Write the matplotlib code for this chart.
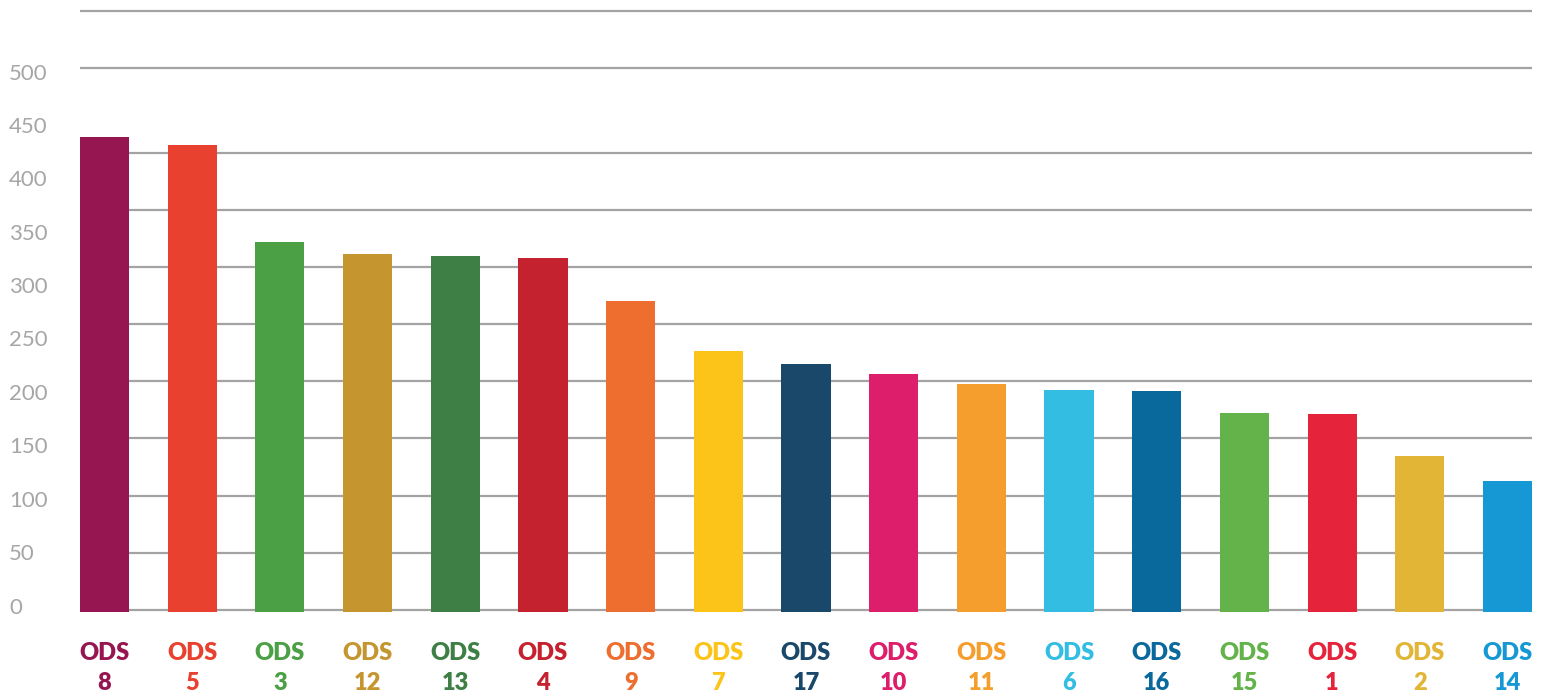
import matplotlib
matplotlib.use("Agg")
import matplotlib.pyplot as plt
import matplotlib.transforms as mtransforms

# ---- data ----
categories = ["8", "5", "3", "12", "13", "4", "9", "7", "17", "10", "11", "6", "16", "15", "1", "2", "14"]
values = [444, 437, 346, 335, 333, 331, 291, 244, 232, 222, 213, 207, 206, 186, 185, 146, 122]
colors = ["#951651", "#E8412F", "#4BA045", "#C59630", "#3E7F45", "#C5222F", "#EE6E2F",
          "#FCC419", "#19486A", "#DD1E6A", "#F59E2D", "#33BDE2", "#09699D", "#63B34A",
          "#E5243B", "#E2B537", "#1598D3"]
ytick_values = [0, 50, 100, 150, 200, 250, 300, 350, 400, 450, 500]
ytick_labels = [str(v) for v in ytick_values]
grid_levels = [1, 55, 108.5, 162, 215.5, 269, 322.5, 376, 429.5, 508.5, 562]

W, H, DPI = 1548, 695, 100
fig = plt.figure(figsize=(W / DPI, H / DPI), dpi=DPI)
left_px, right_px = 80, 1532
base_px = 611.5           # from top
ppu = 1.068               # pixels per unit
ymax = 570
top_px = base_px - ymax * ppu
ax = fig.add_axes([left_px / W, (H - base_px) / H, (right_px - left_px) / W, (base_px - top_px) / H])

x = list(range(len(categories)))
bw = 0.56
ax.bar(x, values, width=bw, color=colors, zorder=3)
ax.set_xlim(-bw / 2, len(categories) - 1 + bw / 2)
ax.set_ylim(0, ymax)

for g in grid_levels:
    ax.axhline(g, color="#a3a3a3", lw=1.6, zorder=1)

for s in ax.spines.values():
    s.set_visible(False)

# y tick labels
ax.set_yticks(ytick_values)
ax.set_yticklabels(ytick_labels)
ax.tick_params(axis="y", length=0, pad=51, labelsize=16, labelcolor="#a6a6a6")
offset = mtransforms.ScaledTranslation(0, 6 / DPI, fig.dpi_scale_trans)
for lab in ax.get_yticklabels():
    lab.set_horizontalalignment("left")
    lab.set_fontfamily(["Lato", "DejaVu Sans"])
    lab.set_fontweight("normal")
    lab.set_transform(lab.get_transform() + offset)

# x tick labels
ax.set_xticks(x)
ax.set_xticklabels(["ODS\n" + c for c in categories])
ax.tick_params(axis="x", length=0, pad=22, labelsize=17)
for lab, c in zip(ax.get_xticklabels(), colors):
    lab.set_color(c)
    lab.set_fontfamily(["Lato", "DejaVu Sans"])
    lab.set_fontweight("heavy")
    lab.set_linespacing(1.45)
    lab.set_multialignment("center")

fig.savefig("out.png", dpi=DPI)
